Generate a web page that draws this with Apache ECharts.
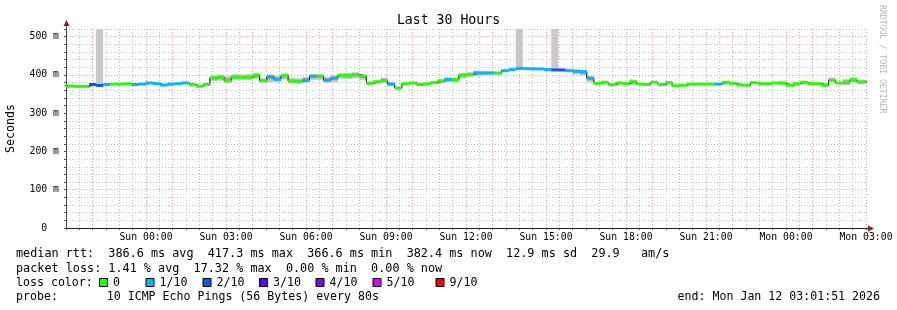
<!DOCTYPE html>
<html><head><meta charset="utf-8">
<script src="https://cdn.jsdelivr.net/npm/echarts@6/dist/echarts.min.js"></script>
<style>html,body{margin:0;padding:0;background:#fff}#c{width:897px;height:310px}</style>
</head><body><div id="c"></div>
<script>
// ---------- data ----------
const stepMinutes = 16;          // consolidation step of the RRD
const firstStepHour = -0.2042;   // start of first step, hours after Sat 21:00
const median = [
  372,371,370,370,375,372.5,375,376,376,377,
  375,376,379,377,373.5,376,377,379,374.5,370.5,
  375,392,394,385,394,394,394,399,385,395.5,
  389,398.5,384,383,386,396.5,396.5,386,391.5,399,
  398,401,396.5,378.5,382,385,376,365.5,377,379,
  375,377,380,384,388,388,399,401,405,405,
  405,405,411,414,417,416.5,416,415.5,414,413,
  413,411,409.5,408,391,378,381,374.5,379,377,
  382,376,375,381,375,380,372,373,376,376,
  376,376,376,381,378,374,373,380,377,377,
  379,378,373,377,381,377,377,373,386,379,
  381,387,381,382
];
// 0 = no loss, 1 = 1/10, 2 = 2/10
const lossCode = [
  0,0,0,0,2,2,1,0,0,0,
  1,1,1,1,1,1,1,1,0,0,
  0,0,0,0,0,0,0,0,0,1,
  1,0,0,0,1,1,0,1,1,0,
  0,0,0,0,0,0,1,0,0,0,
  0,0,0,0,1,0,0,0,1,1,
  1,0,1,1,1,1,1,1,1,2,
  2,1,1,1,1,0,0,0,0,0,
  0,0,0,0,0,0,0,0,0,0,
  0,0,1,0,0,0,0,0,0,0,
  0,0,0,0,0,0,0,0,0,0,
  0,0,0,0
];
const smokeLo = [
  null,null,null,null,null,372,null,null,null,null,
  null,null,null,null,null,null,null,null,null,null,
  null,383,385,378,387,387,386,390,380,380,
  381,388,378,378,380,387,387,380,381,390,
  389,391,387,374,377,379,370,null,null,null,
  null,null,null,379,381,380,390,394,396,399,
  401,null,null,null,417,null,null,null,null,413,
  null,null,401,398,382,null,null,null,null,null,
  377,null,null,null,null,null,null,null,null,null,
  null,null,null,null,null,null,null,null,null,null,
  null,376,null,null,null,null,null,370,383,null,
  373,380,377,378
];
const smokeHi = [
  null,null,null,null,null,600,null,null,null,null,
  null,null,null,null,null,null,null,null,null,null,
  null,399,401,398,402,401,402,405,391,401,
  398,403,392,391,395,403,402,395,399,404,
  405,407,402,382,386,393,382,null,null,null,
  null,null,null,389,394,393,405,407,411,410,
  409,null,null,null,600,null,null,null,null,600,
  null,null,415,414,398,null,null,null,null,null,
  388,null,null,null,null,null,null,null,null,null,
  null,null,null,null,null,null,null,null,null,null,
  null,385,null,null,null,null,null,379,393,null,
  389,394,388,387
];
const xTickHours  = [3,6,9,12,15,18,21,24,27,30];
const xTickLabels = ['Sun 00:00','Sun 03:00','Sun 06:00','Sun 09:00','Sun 12:00',
                     'Sun 15:00','Sun 18:00','Sun 21:00','Mon 00:00','Mon 03:00'];
const yTickValues = [0,100,200,300,400,500];
const yTickLabels = ['0  ','100 m','200 m','300 m','400 m','500 m'];
const lossColors = ['#26ff00','#00b8ff','#0059ff','#5e00ff','#7e00ff','#dd00ff','#ff0000'];
const lossLabels = ['0','1/10','2/10','3/10','4/10','5/10','9/10'];
const statLine1 = 'median rtt:  386.6 ms avg  417.3 ms max  366.6 ms min  382.4 ms now  12.9 ms sd  29.9   am/s';
const statLine2 = 'packet loss: 1.41 % avg  17.32 % max  0.00 % min  0.00 % now';
const probeText = 'probe:       10 ICMP Echo Pings (56 Bytes) every 80s';
const endText   = 'end: Mon Jan 12 03:01:51 2026';

// ---------- build ----------
const MONO = '"DejaVu Sans Mono", "Liberation Mono", monospace';
const stepH = stepMinutes / 60;
const tAt = i => firstStepHour + i * stepH;
const smokeData = [];
median.forEach((m, i) => { if (smokeLo[i] != null) smokeData.push([tAt(i), tAt(i + 1), smokeLo[i], smokeHi[i], m]); });
const medData = median.map((m, i) => [tAt(i), tAt(i + 1), m, lossCode[i]]);
const blackData = median.map((m, i) => [tAt(i), m]);
blackData.push([tAt(median.length), median[median.length - 1]]);

const PINK = '#efa0a0', GREY = '#c0c0c0', ARROW = '#8a1e1e';

const chart = echarts.init(document.getElementById('c'), null, {renderer: 'canvas'});
const legendBoxX = [99.5, 146, 203, 259.5, 316, 373, 436];
const txt = (x, y, s, size, extra) => ({type:'text', x, y, style:Object.assign({text:s, font:size + 'px ' + MONO, fill:'#000', verticalAlign:'middle', textVerticalAlign:'middle'}, extra || {})});
const graphics = [];
graphics.push(txt(16, 254, statLine1, 11.8));
graphics.push(txt(16, 268.5, statLine2, 11.8));
graphics.push(txt(16, 283, 'loss color:', 11.6));
lossLabels.forEach((lab, k) => {
  graphics.push({type:'rect', shape:{x:legendBoxX[k], y:278.5, width:8, height:8}, style:{fill:lossColors[k], stroke:'#000', lineWidth:1}});
  graphics.push(txt(legendBoxX[k] + 13.5, 283, lab, 11.6));
});
graphics.push(txt(16, 297, probeText, 11.6));
graphics.push(txt(880, 297, endText, 11.6, {align:'right', textAlign:'right'}));
graphics.push({type:'text', x:882, y:5, rotation:-Math.PI/2, style:{text:'RRDTOOL / TOBI OETIKER', font:'8.2px ' + MONO, fill:'#b8b8b8', verticalAlign:'middle', textVerticalAlign:'middle'}});
// axis extensions with arrow heads (decoration)
graphics.push({type:'line', z:50, shape:{x1:66.5, y1:29, x2:66.5, y2:24}, style:{stroke:'#444', lineWidth:1}});
graphics.push({type:'polygon', z:50, shape:{points:[[66.5,20],[63.5,26],[69.5,26]]}, style:{fill:ARROW}});
graphics.push({type:'line', z:50, shape:{x1:866, y1:228.5, x2:869, y2:228.5}, style:{stroke:'#222', lineWidth:1}});
graphics.push({type:'polygon', z:50, shape:{points:[[874,228.5],[868,225.5],[868,231.5]]}, style:{fill:ARROW}});

chart.setOption({
  animation: false,
  backgroundColor: '#fff',
  title: {text:'Last 30 Hours', left:'center', top:9,
    textStyle:{fontFamily:MONO, fontSize:13.2, fontWeight:'normal', color:'#000'}},
  grid: {left:66, right:31, top:29, bottom:82, containLabel:false, outerBoundsMode:'none'},
  xAxis: {
    type:'value', min:0, max:30, interval:0.5,
    axisLine:{show:true, onZero:false, lineStyle:{color:'#222', width:1}},
    axisTick:{show:true, length:2, lineStyle:{color:'#555'}},
    axisLabel:{margin:4, fontFamily:MONO, fontSize:9.8, color:'#000',
      formatter: v => { const k = xTickHours.indexOf(Math.round(v * 2) / 2); return k >= 0 ? xTickLabels[k] : ''; }},
    splitLine:{show:true, lineStyle:{color:[PINK, GREY], width:1, type:[1,2]}}
  },
  yAxis: {
    type:'value', min:0, max:520, interval:20,
    name:'Seconds', nameLocation:'middle', nameGap:49, nameRotate:90,
    nameTextStyle:{fontFamily:MONO, fontSize:11.6, color:'#000'},
    axisLine:{show:true, lineStyle:{color:'#444', width:1}},
    axisTick:{show:true, length:2, lineStyle:{color:'#555'}},
    axisLabel:{margin:7, fontFamily:MONO, fontSize:9.8, color:'#000',
      formatter: v => { const k = yTickValues.indexOf(v); return k >= 0 ? yTickLabels[k] : ''; }},
    splitLine:{show:true, lineStyle:{color:[PINK, GREY, GREY, GREY, GREY], width:1, type:[1,2]}}
  },
  graphic: graphics,
  series: [
    {type:'custom', name:'smoke', clip:true, z:2, data:smokeData,
     renderItem: (params, api) => {
       const a = api.coord([api.value(0), api.value(3)]);
       const b = api.coord([api.value(1), api.value(2)]);
       const m = api.coord([api.value(0), api.value(4)]);
       const w = b[0] - a[0];
       const tall = api.value(3) - api.value(2) > 60;
       const children = [{type:'rect', shape:{x:a[0], y:a[1], width:w, height:b[1]-a[1]}, style:{fill: tall ? '#c8c8c8' : '#c6c6c6'}}];
       if (!tall) {
         const up = (m[1] - a[1]) * 0.5, dn = (b[1] - m[1]) * 0.5;
         children.push({type:'rect', shape:{x:a[0], y:m[1]-up, width:w, height:up+dn}, style:{fill:'#a6a6a6'}});
       }
       return {type:'group', children};
     }},
    {type:'line', name:'median-step', step:'end', clip:true, z:3, symbol:'none', data:blackData,
     lineStyle:{color:'#000', width:1}},
    {type:'custom', name:'median', clip:true, z:4, data:medData,
     renderItem: (params, api) => {
       const a = api.coord([api.value(0), api.value(2)]);
       const b = api.coord([api.value(1), api.value(2)]);
       return {type:'rect', shape:{x:a[0], y:a[1]-1.5, width:b[0]-a[0], height:3}, style:{fill:lossColors[api.value(3)]}};
     }}
  ]
});
</script></body></html>
